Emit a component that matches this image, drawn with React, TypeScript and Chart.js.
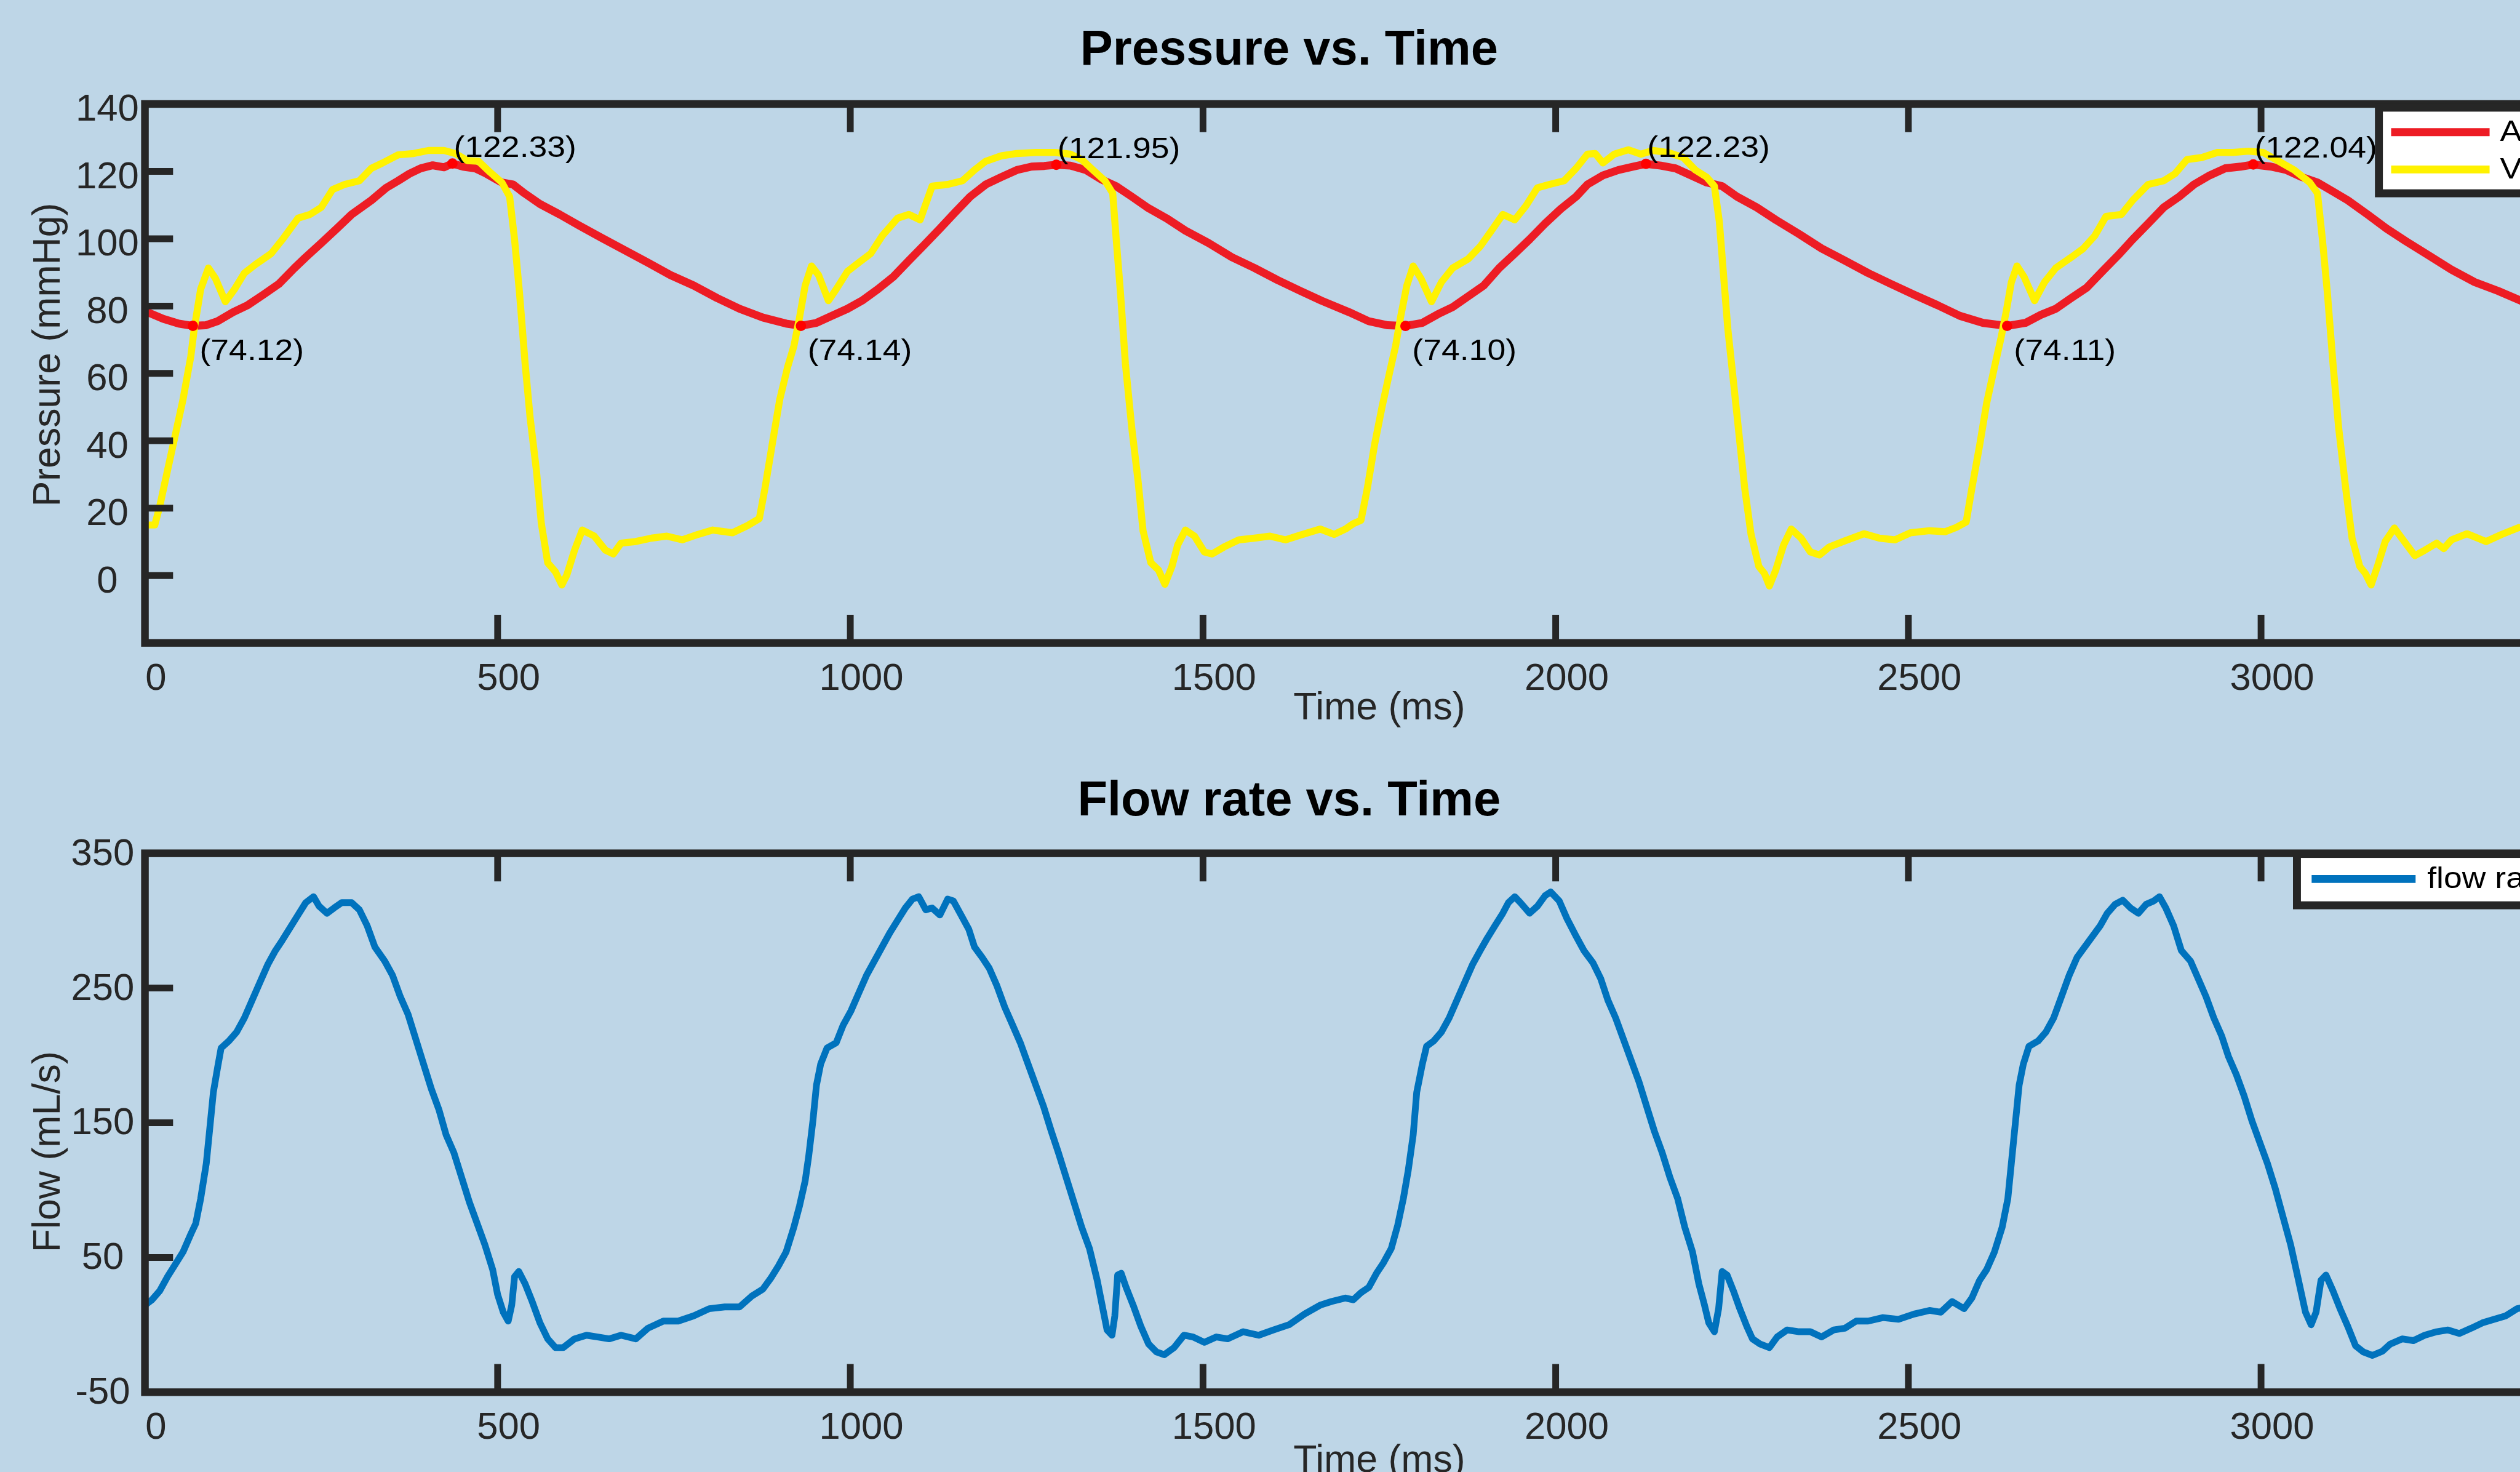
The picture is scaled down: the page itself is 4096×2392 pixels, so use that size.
import React, { useEffect, useRef } from "react";
import { Chart, registerables } from "chart.js";

Chart.register(...registerables);

// ---------------- data ----------------
const TIME_TICKS = [0, 500, 1000, 1500, 2000, 2500, 3000, 3500];
const PRESSURE_TICKS = [0, 20, 40, 60, 80, 100, 120, 140];
const FLOW_TICKS = [-50, 50, 150, 250, 350];
const TIME_RANGE = [0, 3500];
const PRESSURE_RANGE = [-20, 140];
const FLOW_RANGE = [-50, 350];

const TOP_TITLE = "Pressure vs. Time";
const BOTTOM_TITLE = "Flow rate vs. Time";
const X_TITLE = "Time (ms)";
const PRESSURE_TITLE = "Pressure (mmHg)";
const FLOW_TITLE = "Flow (mL/s)";
const AORTIC_LABEL = "Aortic pressure";
const VENTRICULAR_LABEL = "Ventricular pressure";
const FLOW_LABEL = "flow rate";

const AORTIC_TIME = [
  0, 26, 48, 68, 86, 103, 125, 146, 168, 190,
  212, 228, 250, 272, 293, 321, 342, 359, 375, 391,
  408, 424, 436, 451, 468, 484, 506, 522, 538, 560,
  588, 615, 647, 680, 713, 745, 778, 811, 843, 876,
  909, 930, 952, 974, 996, 1018, 1039, 1061, 1083, 1105,
  1127, 1148, 1170, 1192, 1214, 1236, 1257, 1275, 1292, 1312,
  1334, 1355, 1377, 1399, 1421, 1448, 1475, 1508, 1541, 1573,
  1606, 1638, 1668, 1707, 1735, 1762, 1787, 1811, 1833, 1854,
  1876, 1898, 1920, 1942, 1963, 1985, 2007, 2029, 2045, 2067,
  2089, 2110, 2128, 2149, 2170, 2192, 2214, 2236, 2257, 2285,
  2312, 2345, 2377, 2410, 2443, 2475, 2508, 2541, 2573, 2606,
  2640, 2666, 2688, 2709, 2731, 2753, 2775, 2797, 2818, 2840,
  2862, 2884, 2905, 2927, 2949, 2971, 2989, 3014, 3036, 3058,
  3080, 3102, 3123, 3151, 3178, 3205, 3238, 3270, 3303, 3336,
  3366, 3400, 3450, 3500,
];
const AORTIC_PRESSURE = [
  78.5, 76.2, 74.8, 74.12, 74.3, 75.5, 78.2, 80.3, 83.4, 86.6,
  91.3, 94.5, 98.7, 103.0, 107.2, 111.4, 115.1, 117.2, 119.3, 120.9,
  121.8, 121.2, 122.33, 121.4, 120.9, 119.3, 116.7, 116.1, 113.5, 110.3,
  107.2, 104.0, 100.3, 96.6, 92.9, 89.2, 86.1, 82.4, 79.2, 76.6,
  74.8, 74.14, 75.0, 77.1, 79.2, 81.8, 85.0, 88.7, 93.5, 98.2,
  103.0, 107.7, 112.5, 116.1, 118.3, 120.4, 121.4, 121.6, 121.95, 121.7,
  120.4, 117.7, 115.6, 112.5, 109.3, 106.1, 102.4, 98.7, 94.5, 91.3,
  87.7, 84.5, 81.6, 78.2, 75.5, 74.3, 74.10, 75.0, 77.6, 79.7,
  82.9, 86.1, 91.3, 95.6, 99.8, 104.5, 108.8, 112.5, 116.1, 118.8,
  120.4, 121.4, 122.23, 121.7, 120.9, 118.8, 116.7, 115.6, 112.5, 109.3,
  105.6, 101.4, 97.1, 93.5, 89.8, 86.6, 83.4, 80.3, 77.1, 75.0,
  74.11, 75.0, 77.4, 79.2, 82.4, 85.5, 90.3, 95.0, 99.8, 104.5,
  109.3, 112.5, 116.1, 118.8, 120.9, 121.4, 122.04, 121.4, 120.4, 118.3,
  116.7, 114.0, 111.4, 107.2, 103.0, 99.3, 95.0, 90.8, 87.1, 84.5,
  81.8, 78.8, 76.0, 74.6,
];

const VENT_TIME = [
  0, 14, 21, 32, 43, 54, 65, 70, 79, 90,
  100, 114, 127, 141, 157, 179, 195, 217, 234, 250,
  266, 283, 304, 321, 337, 359, 381, 402, 424, 440,
  457, 473, 489, 506, 517, 524, 531, 539, 546, 555,
  562, 571, 582, 591, 598, 609, 620, 637, 653, 664,
  675, 696, 718, 740, 762, 784, 805, 833, 854, 871,
  879, 889, 900, 911, 920, 928, 936, 945, 955, 969,
  980, 996, 1012, 1029, 1045, 1067, 1083, 1099, 1116, 1138,
  1159, 1176, 1192, 1214, 1236, 1263, 1290, 1312, 1328, 1344,
  1361, 1372, 1377, 1383, 1390, 1399, 1408, 1415, 1426, 1437,
  1446, 1456, 1464, 1475, 1488, 1502, 1513, 1530, 1551, 1573,
  1595, 1617, 1638, 1666, 1686, 1702, 1713, 1724, 1733, 1743,
  1754, 1765, 1773, 1780, 1789, 1798, 1809, 1824, 1838, 1854,
  1876, 1893, 1909, 1925, 1942, 1958, 1974, 1991, 2012, 2029,
  2045, 2056, 2067, 2083, 2103, 2121, 2138, 2159, 2181, 2198,
  2214, 2225, 2232, 2238, 2244, 2252, 2260, 2268, 2277, 2288,
  2296, 2303, 2312, 2323, 2334, 2348, 2361, 2374, 2388, 2410,
  2437, 2459, 2481, 2503, 2530, 2552, 2568, 2582, 2590, 2601,
  2611, 2622, 2631, 2639, 2646, 2654, 2664, 2679, 2693, 2709,
  2731, 2748, 2764, 2780, 2802, 2818, 2840, 2862, 2878, 2895,
  2916, 2938, 2960, 2982, 3003, 3025, 3047, 3069, 3080, 3087,
  3094, 3102, 3110, 3120, 3129, 3140, 3148, 3156, 3165, 3176,
  3189, 3203, 3218, 3232, 3249, 3259, 3270, 3292, 3319, 3341,
  3366, 3400, 3450, 3500,
];
const VENT_PRESSURE = [
  15.0, 15.0, 20.6, 31.2, 41.7, 52.3, 65.0, 73.4, 85.0, 91.3,
  88.2, 81.3, 85.0, 89.8, 92.4, 95.6, 99.8, 106.1, 107.2, 109.3,
  114.6, 116.1, 117.2, 120.9, 122.5, 124.9, 125.3, 126.2, 126.2, 125.3,
  123.2, 123.0, 119.8, 116.7, 112.5, 99.8, 84.0, 62.9, 47.0, 31.2,
  15.4, 3.8, 1.1, -2.8, 0.1, 7.5, 13.5, 11.7, 7.5, 6.4,
  9.6, 10.1, 11.1, 11.7, 10.6, 12.2, 13.5, 12.7, 14.8, 16.9,
  25.9, 38.6, 52.3, 61.8, 68.1, 76.6, 86.1, 91.9, 89.2, 81.6,
  85.0, 90.3, 92.9, 95.6, 100.8, 106.1, 107.2, 105.6, 115.6, 116.1,
  117.2, 120.4, 123.0, 124.6, 125.3, 125.6, 125.6, 125.1, 123.5, 120.4,
  117.2, 113.5, 99.8, 84.0, 62.9, 43.9, 28.0, 13.3, 3.8, 1.6,
  -2.6, 2.7, 9.0, 13.5, 11.7, 7.0, 6.4, 8.5, 10.6, 11.1,
  11.7, 10.6, 12.0, 13.8, 12.2, 13.8, 15.4, 16.4, 25.9, 38.6,
  50.2, 60.7, 68.1, 76.6, 86.1, 91.9, 88.2, 81.3, 87.1, 91.3,
  94.0, 97.7, 102.4, 107.2, 105.6, 109.8, 115.1, 116.1, 117.2, 120.9,
  125.1, 125.3, 122.5, 125.1, 126.4, 125.1, 126.2, 125.6, 124.1, 120.4,
  118.3, 115.6, 105.1, 89.2, 73.4, 57.6, 41.7, 25.9, 12.2, 2.7,
  0.6, -3.1, 1.6, 9.0, 13.8, 11.1, 7.0, 6.1, 8.5, 10.3,
  12.4, 11.1, 10.6, 12.7, 13.3, 13.0, 14.3, 15.9, 25.9, 38.6,
  51.2, 61.8, 70.2, 78.7, 87.1, 91.9, 88.7, 81.6, 87.1, 91.3,
  94.5, 97.1, 100.8, 106.6, 107.2, 111.4, 116.1, 117.2, 119.3, 123.5,
  124.1, 125.6, 125.6, 126.0, 125.6, 123.0, 120.4, 116.7, 113.5, 99.8,
  84.0, 62.9, 43.9, 25.9, 11.1, 2.7, 0.6, -2.8, 2.7, 10.1,
  14.1, 10.1, 5.9, 7.5, 9.6, 8.0, 10.6, 12.4, 10.1, 12.2,
  14.3, 14.0, 15.2, 15.6,
];

const FLOW_TIME = [
  0, 10, 21, 32, 43, 54, 65, 72, 79, 87,
  92, 97, 103, 108, 119, 130, 141, 152, 163, 174,
  185, 195, 206, 217, 228, 239, 247, 258, 268, 279,
  293, 304, 315, 326, 340, 351, 362, 373, 384, 395,
  406, 417, 427, 438, 449, 460, 471, 482, 493, 500,
  508, 515, 520, 524, 530, 539, 549, 560, 571, 582,
  593, 609, 626, 642, 658, 675, 696, 713, 735, 756,
  778, 800, 822, 843, 860, 876, 887, 898, 909, 920,
  928, 936, 941, 947, 952, 958, 967, 980, 990, 1001,
  1012, 1023, 1034, 1045, 1056, 1067, 1078, 1088, 1097, 1107,
  1116, 1127, 1138, 1146, 1157, 1168, 1176, 1187, 1197, 1208,
  1219, 1230, 1241, 1252, 1263, 1274, 1285, 1295, 1306, 1317,
  1328, 1339, 1350, 1358, 1364, 1371, 1375, 1379, 1384, 1391,
  1401, 1412, 1423, 1434, 1445, 1459, 1473, 1486, 1502, 1519,
  1535, 1557, 1579, 1600, 1622, 1644, 1666, 1682, 1702, 1713,
  1724, 1735, 1746, 1756, 1767, 1776, 1784, 1791, 1798, 1803,
  1811, 1817, 1827, 1838, 1849, 1860, 1871, 1882, 1893, 1903,
  1914, 1925, 1933, 1942, 1950, 1963, 1974, 1985, 1993, 2005,
  2016, 2029, 2040, 2053, 2064, 2074, 2085, 2096, 2107, 2118,
  2129, 2140, 2151, 2162, 2173, 2183, 2194, 2203, 2211, 2217,
  2225, 2231, 2236, 2243, 2252, 2261, 2271, 2279, 2290, 2303,
  2314, 2328, 2345, 2361, 2377, 2394, 2410, 2426, 2443, 2464,
  2486, 2508, 2530, 2546, 2562, 2579, 2590, 2601, 2611, 2622,
  2633, 2641, 2646, 2652, 2657, 2663, 2671, 2684, 2695, 2706,
  2717, 2728, 2739, 2750, 2761, 2772, 2782, 2793, 2804, 2815,
  2826, 2837, 2848, 2856, 2865, 2876, 2887, 2900, 2911, 2922,
  2933, 2944, 2954, 2965, 2976, 2987, 2998, 3009, 3020, 3031,
  3042, 3052, 3063, 3071, 3078, 3085, 3092, 3102, 3112, 3123,
  3134, 3145, 3158, 3172, 3183, 3200, 3216, 3232, 3249, 3265,
  3281, 3298, 3314, 3330, 3347, 3363, 3400, 3450, 3500,
];
const FLOW_RATE = [
  14.6, 18.6, 25.2, 35.7, 44.9, 54.1, 67.3, 75.2, 93.6, 119.9,
  146.2, 172.6, 191.0, 205.5, 210.7, 217.3, 227.8, 241.0, 254.2, 267.3,
  277.8, 285.7, 295.0, 304.2, 313.4, 317.8, 310.7, 305.5, 309.4, 313.4,
  313.4, 308.1, 296.3, 280.5, 270.0, 259.4, 243.6, 230.5, 212.1, 193.6,
  175.2, 159.4, 141.0, 127.8, 109.4, 91.0, 75.2, 59.4, 41.0, 22.5,
  9.4, 2.8, 14.6, 35.7, 39.6, 30.4, 17.3, 1.5, -10.4, -16.9,
  -16.9, -10.4, -7.7, -9.0, -10.4, -7.7, -10.4, -2.5, 2.8, 2.8,
  6.7, 12.0, 13.3, 13.3, 21.2, 26.5, 34.4, 43.6, 54.1, 72.5,
  88.3, 106.8, 125.2, 151.5, 177.8, 193.6, 205.5, 209.4, 222.6, 233.1,
  246.3, 259.4, 270.0, 280.5, 291.0, 300.2, 309.4, 316.0, 317.8, 308.1,
  309.4, 304.2, 316.0, 314.7, 304.2, 293.6, 280.5, 272.6, 264.7, 251.5,
  235.7, 222.6, 209.4, 193.6, 177.8, 162.0, 143.6, 127.8, 109.4, 91.0,
  72.5, 56.8, 33.1, 12.0, -3.8, -7.7, 6.7, 37.0, 38.3, 27.8,
  14.6, -1.2, -14.3, -20.1, -22.2, -16.9, -7.7, -9.0, -13.0, -9.0,
  -10.4, -5.1, -7.7, -3.8, 0.1, 8.0, 14.6, 17.3, 19.9, 18.6,
  23.9, 27.8, 38.3, 46.2, 56.8, 73.9, 93.6, 114.7, 141.0, 172.6,
  193.6, 206.8, 210.7, 217.3, 227.8, 241.0, 254.2, 267.3, 277.8, 287.0,
  296.3, 305.5, 313.4, 317.8, 313.4, 305.5, 310.7, 318.6, 321.3, 314.7,
  301.5, 288.4, 277.8, 268.6, 256.8, 241.0, 227.8, 212.1, 196.3, 180.5,
  162.0, 143.6, 127.8, 109.4, 93.6, 72.5, 54.1, 30.4, 14.6, 1.5,
  -5.1, 12.0, 39.6, 37.0, 25.2, 12.0, -1.2, -10.4, -14.3, -16.9,
  -9.0, -3.8, -5.1, -5.1, -9.0, -3.8, -2.5, 2.8, 2.8, 5.4,
  4.1, 8.0, 10.7, 9.4, 17.3, 12.0, 19.9, 33.1, 41.0, 54.1,
  72.5, 93.6, 119.9, 151.5, 177.8, 193.6, 206.8, 210.7, 217.3, 227.8,
  243.6, 259.4, 272.6, 280.5, 288.4, 296.3, 305.5, 312.1, 315.2, 309.4,
  305.5, 312.1, 314.7, 317.8, 309.4, 296.3, 277.8, 270.0, 256.8, 243.6,
  227.8, 214.7, 198.9, 185.7, 169.9, 151.5, 135.7, 119.9, 101.5, 80.4,
  59.4, 35.7, 9.4, 0.1, 9.4, 33.1, 37.0, 25.2, 12.0, -1.2,
  -15.6, -20.1, -22.7, -19.6, -14.3, -10.4, -11.7, -7.7, -5.1, -3.8,
  -6.4, -2.5, 1.5, 4.1, 6.7, 12.0, 16.0, 22.0, 28.0,
];

// marked extremes of the aortic pressure
const PEAK_TIME = [436, 1292, 2128, 2989];
const PEAK_VALUE = [122.33, 121.95, 122.23, 122.04];
const TROUGH_TIME = [68, 930, 1787, 2640];
const TROUGH_VALUE = [74.12, 74.14, 74.10, 74.11];

// ---------------- style / layout ----------------
const S = 0.994;
const px = (v: number) => v * S;
const BG = "rgb(190, 214, 231)";
const AXIS_COLOR = "#262626";
const FONT = "'Liberation Sans', Arial, Helvetica, sans-serif";
const RED = "rgb(237, 28, 36)";
const YELLOW = "rgb(255, 242, 0)";
const BLUE = "rgb(0, 114, 189)";
const MARKER_RED = "#ff0000";
const SMALL_TEXT_SIZE = 49;
const SMALL_TEXT_STRETCH = 1.1;

Chart.defaults.font.family = FONT;

const CANVAS_W = Math.round(4300 * S);
const TOP_H = Math.round(1230 * S);
const BOT_TOP = TOP_H;
const BOT_H = Math.round(1280 * S);

const TOP_LAYOUT = {
  width: CANVAS_W,
  height: TOP_H,
  plotLeft: px(237),
  plotRight: px(4274),
  plotTop: px(170),
  plotBottom: px(1051),
  titleX: px(2108),
  titleY: px(106),
  yTitleX: px(80),
  yTitleY: px(580),
  xTitleGap: px(108),
  yTickPad: px(9.8),
  yTickShift: px(10.5),
  legendLeft: px(3890),
  legendTop: px(176),
  legendBottom: px(316),
  legendRows: [px(216), px(277)],
  sampleX0: px(3910),
  sampleX1: px(4071),
  legendTextX: px(4088),
};

const BOTTOM_LAYOUT = {
  width: CANVAS_W,
  height: BOT_H,
  plotLeft: px(237),
  plotRight: px(4274),
  plotTop: px(1395) - BOT_TOP,
  plotBottom: px(2276) - BOT_TOP,
  titleX: px(2108),
  titleY: px(1333) - BOT_TOP,
  yTitleX: px(80),
  yTitleY: px(1883) - BOT_TOP,
  xTitleGap: px(113),
  yTickPad: px(17.3),
  yTickShift: px(2),
  legendLeft: px(3756),
  legendTop: px(1396) - BOT_TOP,
  legendBottom: px(1480) - BOT_TOP,
  legendRows: [px(1437) - BOT_TOP],
  sampleX0: px(3780),
  sampleX1: px(3950),
  legendTextX: px(3969),
};

function xy(t: number[], v: number[]) {
  return t.map((x, i) => ({ x, y: v[i] }));
}

function lineDataset(label: string, t: number[], v: number[], color: string, width: number, order: number) {
  return {
    label,
    data: xy(t, v),
    borderColor: color,
    backgroundColor: color,
    borderWidth: width,
    pointRadius: 0,
    pointHoverRadius: 0,
    tension: 0,
    fill: false,
    borderJoinStyle: "round",
    borderCapStyle: "round",
    order,
  };
}

function markerDataset(t: number[], v: number[]) {
  return {
    label: "extremes",
    data: xy(t, v),
    showLine: false,
    borderWidth: 0,
    pointRadius: px(8.5),
    pointHoverRadius: px(8.5),
    pointBackgroundColor: MARKER_RED,
    pointBorderColor: MARKER_RED,
    pointBorderWidth: 0,
    order: 0,
  };
}

function smallText(ctx: any, text: string, x: number, y: number, baseline: string) {
  ctx.save();
  ctx.translate(x, y);
  ctx.scale(SMALL_TEXT_STRETCH, 1);
  ctx.fillStyle = "#000";
  ctx.font = `${px(SMALL_TEXT_SIZE)}px ${FONT}`;
  ctx.textAlign = "left";
  ctx.textBaseline = baseline;
  ctx.fillText(text, 0, 0);
  ctx.restore();
}

function makeDecor(L: any, cfg: any) {
  return {
    id: "matlabDecor",
    afterDatasetsDraw(chart: any) {
      const { ctx, chartArea: a } = chart;
      const xs = chart.scales.x;
      const ys = chart.scales.y;
      ctx.save();
      if (cfg.annotate) {
        PEAK_TIME.forEach((t, i) => {
          const v = PEAK_VALUE[i];
          smallText(ctx, `(${v.toFixed(2)})`, xs.getPixelForValue(t) + px(2), ys.getPixelForValue(v) - px(11), "alphabetic");
        });
        TROUGH_TIME.forEach((t, i) => {
          const v = TROUGH_VALUE[i];
          smallText(ctx, `(${v.toFixed(2)})`, xs.getPixelForValue(t) + px(11), ys.getPixelForValue(v) + px(56), "alphabetic");
        });
      }
      // inward tick marks
      const tl = px(46);
      ctx.strokeStyle = AXIS_COLOR;
      ctx.lineWidth = px(11);
      ctx.lineCap = "butt";
      ctx.beginPath();
      for (const tk of xs.ticks) {
        const p = xs.getPixelForValue(tk.value);
        ctx.moveTo(p, a.bottom);
        ctx.lineTo(p, a.bottom - tl);
        ctx.moveTo(p, a.top);
        ctx.lineTo(p, a.top + tl);
      }
      for (const tk of ys.ticks) {
        const p = ys.getPixelForValue(tk.value);
        ctx.moveTo(a.left, p);
        ctx.lineTo(a.left + tl, p);
        ctx.moveTo(a.right, p);
        ctx.lineTo(a.right - tl, p);
      }
      ctx.stroke();
      // box
      ctx.lineWidth = px(12.5);
      ctx.lineJoin = "miter";
      ctx.strokeRect(a.left, a.top, a.right - a.left, a.bottom - a.top);
      ctx.restore();
    },
    afterDraw(chart: any) {
      const { ctx } = chart;
      ctx.save();
      // title
      ctx.fillStyle = "#000";
      ctx.font = `bold ${px(80)}px ${FONT}`;
      ctx.textAlign = "center";
      ctx.textBaseline = "alphabetic";
      ctx.fillText(cfg.title, L.titleX, L.titleY);
      // y axis title
      ctx.save();
      ctx.translate(L.yTitleX, L.yTitleY);
      ctx.rotate(-Math.PI / 2);
      ctx.fillStyle = AXIS_COLOR;
      ctx.font = `${px(63)}px ${FONT}`;
      ctx.textAlign = "center";
      ctx.textBaseline = "middle";
      ctx.fillText(cfg.yTitle, 0, 0);
      ctx.restore();
      // legend
      const right = chart.width + px(60);
      const h = L.legendBottom - L.legendTop;
      ctx.fillStyle = "#ffffff";
      ctx.fillRect(L.legendLeft, L.legendTop, right - L.legendLeft, h);
      ctx.strokeStyle = AXIS_COLOR;
      ctx.lineWidth = px(13);
      ctx.lineJoin = "miter";
      ctx.strokeRect(L.legendLeft, L.legendTop, right - L.legendLeft, h);
      cfg.legend.forEach((item: any, i: number) => {
        const y = L.legendRows[i];
        ctx.strokeStyle = item.color;
        ctx.lineWidth = px(13);
        ctx.lineCap = "butt";
        ctx.beginPath();
        ctx.moveTo(L.sampleX0, y);
        ctx.lineTo(L.sampleX1, y);
        ctx.stroke();
        smallText(ctx, item.label, L.legendTextX, y + px(1), "middle");
      });
      ctx.restore();
    },
  };
}

function buildOptions(L: any, yRange: number[], yTicks: number[]) {
  const tickFont = { family: FONT, size: px(62), lineHeight: 1.2 };
  const titleSize = px(63);
  return {
    animation: false,
    responsive: false,
    maintainAspectRatio: false,
    devicePixelRatio: 1,
    events: [],
    layout: {
      autoPadding: false,
      padding: { left: 0, top: L.plotTop, right: L.width - L.plotRight, bottom: 0 },
    },
    plugins: {
      legend: { display: false },
      title: { display: false },
      tooltip: { enabled: false },
    },
    scales: {
      x: {
        type: "linear",
        position: "bottom",
        min: TIME_RANGE[0],
        max: TIME_RANGE[1],
        grid: { display: false, drawTicks: false },
        border: { display: false },
        ticks: {
          font: tickFont,
          color: AXIS_COLOR,
          padding: px(22.3),
          labelOffset: px(18),
          maxRotation: 0,
          minRotation: 0,
          autoSkip: false,
          callback: (v: any) => String(v),
        },
        title: {
          display: true,
          text: X_TITLE,
          color: AXIS_COLOR,
          font: { family: FONT, size: titleSize, lineHeight: 1.2 },
          padding: { top: 0, bottom: L.height - L.plotBottom - L.xTitleGap - titleSize * 0.6 },
        },
        afterBuildTicks: (s: any) => {
          s.ticks = TIME_TICKS.map((value) => ({ value }));
        },
        afterFit: (s: any) => {
          s.height = L.height - L.plotBottom;
          s.paddingLeft = 0;
          s.paddingRight = 0;
          s.paddingTop = 0;
          s.paddingBottom = 0;
        },
      },
      y: {
        type: "linear",
        position: "left",
        min: yRange[0],
        max: yRange[1],
        grid: { display: false, drawTicks: false },
        border: { display: false },
        ticks: {
          font: tickFont,
          color: AXIS_COLOR,
          padding: L.yTickPad,
          labelOffset: L.yTickShift,
          crossAlign: "center",
          autoSkip: false,
          callback: (v: any) => String(v),
        },
        title: { display: false },
        afterBuildTicks: (s: any) => {
          s.ticks = yTicks.map((value) => ({ value }));
        },
        afterFit: (s: any) => {
          s.width = L.plotLeft;
          s.paddingLeft = 0;
          s.paddingRight = 0;
          s.paddingTop = 0;
          s.paddingBottom = 0;
        },
      },
    },
  };
}

export default function App() {
  const topRef = useRef<HTMLCanvasElement>(null);
  const botRef = useRef<HTMLCanvasElement>(null);

  useEffect(() => {
    const top = new Chart(topRef.current as HTMLCanvasElement, {
      type: "line",
      data: {
        datasets: [
          markerDataset([...TROUGH_TIME, ...PEAK_TIME], [...TROUGH_VALUE, ...PEAK_VALUE]),
          lineDataset(VENTRICULAR_LABEL, VENT_TIME, VENT_PRESSURE, YELLOW, px(11.5), 1),
          lineDataset(AORTIC_LABEL, AORTIC_TIME, AORTIC_PRESSURE, RED, px(13), 2),
        ],
      },
      options: buildOptions(TOP_LAYOUT, PRESSURE_RANGE, PRESSURE_TICKS) as any,
      plugins: [
        makeDecor(TOP_LAYOUT, {
          title: TOP_TITLE,
          yTitle: PRESSURE_TITLE,
          annotate: true,
          legend: [
            { label: AORTIC_LABEL, color: RED },
            { label: VENTRICULAR_LABEL, color: YELLOW },
          ],
        }),
      ],
    } as any);

    const bottom = new Chart(botRef.current as HTMLCanvasElement, {
      type: "line",
      data: {
        datasets: [lineDataset(FLOW_LABEL, FLOW_TIME, FLOW_RATE, BLUE, px(11), 1)],
      },
      options: buildOptions(BOTTOM_LAYOUT, FLOW_RANGE, FLOW_TICKS) as any,
      plugins: [
        makeDecor(BOTTOM_LAYOUT, {
          title: BOTTOM_TITLE,
          yTitle: FLOW_TITLE,
          annotate: false,
          legend: [{ label: FLOW_LABEL, color: BLUE }],
        }),
      ],
    } as any);

    return () => {
      top.destroy();
      bottom.destroy();
    };
  }, []);

  return (
    <div
      style={{
        position: "fixed",
        left: 0,
        top: 0,
        width: "100vw",
        height: "100vh",
        overflow: "hidden",
        background: BG,
      }}
    >
      <canvas
        ref={topRef}
        width={CANVAS_W}
        height={TOP_H}
        style={{ position: "absolute", left: 0, top: 0, width: CANVAS_W, height: TOP_H }}
      />
      <canvas
        ref={botRef}
        width={CANVAS_W}
        height={BOT_H}
        style={{ position: "absolute", left: 0, top: BOT_TOP, width: CANVAS_W, height: BOT_H }}
      />
    </div>
  );
}
